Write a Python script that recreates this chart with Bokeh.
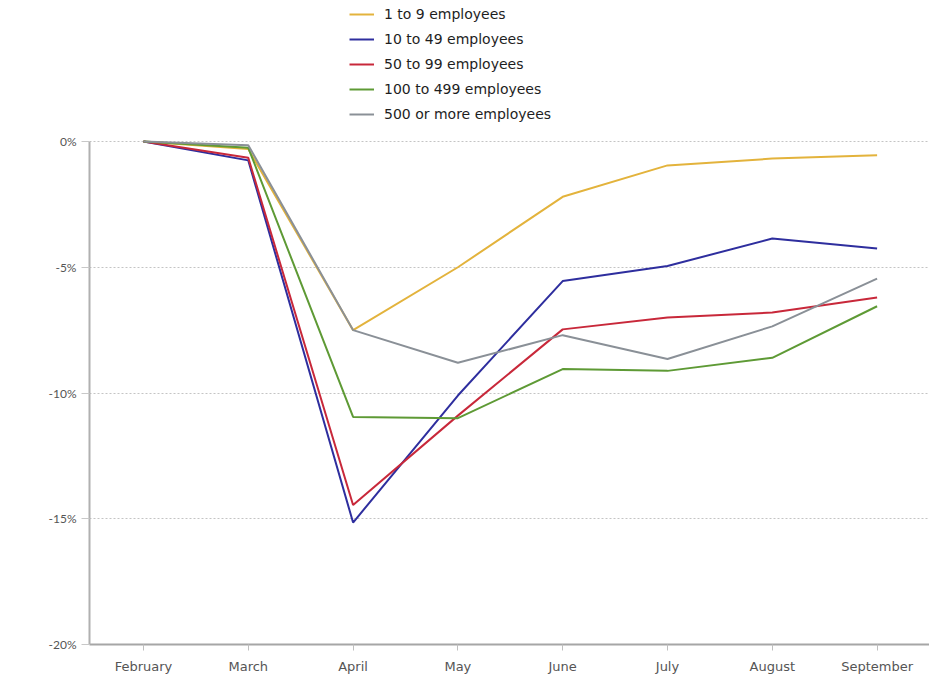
from bokeh.plotting import figure
from bokeh.models import Legend, LegendItem, FixedTicker, Range1d
from bokeh.embed import file_html
from bokeh.resources import INLINE

months = ["February", "March", "April", "May", "June", "July", "August", "September"]
series_names = ["1 to 9 employees", "10 to 49 employees", "50 to 99 employees",
                "100 to 499 employees", "500 or more employees"]
emp_1_9 = [0.0, -0.3, -7.5, -5.0, -2.2, -0.95, -0.68, -0.55]
emp_10_49 = [0.0, -0.75, -15.15, -10.1, -5.55, -4.95, -3.86, -4.25]
emp_50_99 = [0.0, -0.65, -14.45, -10.9, -7.47, -7.0, -6.8, -6.2]
emp_100_499 = [0.0, -0.25, -10.95, -11.0, -9.05, -9.12, -8.6, -6.55]
emp_500_plus = [0.0, -0.15, -7.5, -8.8, -7.7, -8.65, -7.35, -5.45]
colors = ["#E3B33C", "#2E2E9E", "#C8283A", "#5E9A35", "#8A9097"]
y_ticks = [0, -5, -10, -15, -20]

series = [emp_1_9, emp_10_49, emp_50_99, emp_100_499, emp_500_plus]
x = list(range(len(months)))

FONT = "DejaVu Sans"
# frame spans the full height above the axis so the legend fits inside it
p = figure(width=929, height=676, output_backend="svg", toolbar_location=None,
           x_range=Range1d(-0.515, 7.5), y_range=Range1d(-20, 20 * 141 / 503),
           min_border_left=89, min_border_right=0, min_border_top=0,
           min_border_bottom=32)
p.outline_line_color = None
p.background_fill_color = "white"

renderers = []
for vals, c in zip(series, colors):
    r = p.line(x, vals, line_color=c, line_width=2)
    renderers.append(r)

items = [LegendItem(label=n, renderers=[r]) for n, r in zip(series_names, renderers)]
legend = Legend(items=items, location=(260, 520), orientation="vertical",
                border_line_color=None, background_fill_alpha=0,
                padding=0, margin=0, spacing=5, glyph_width=25, glyph_height=20,
                label_height=20, label_standoff=10,
                label_text_font=FONT, label_text_font_size="14px",
                label_text_color="#1E1E1E")
p.add_layout(legend, "center")

# x axis
p.xaxis.ticker = FixedTicker(ticks=x)
p.xaxis.major_label_overrides = {i: m for i, m in enumerate(months)}
p.xaxis.axis_line_color = "#A6A6A6"
p.xaxis.axis_line_width = 2
p.xaxis.major_tick_line_color = "#BFBFBF"
p.xaxis.major_tick_in = 0
p.xaxis.major_tick_out = 6
p.xaxis.minor_tick_line_color = None
p.xaxis.major_label_text_font = FONT
p.xaxis.major_label_text_font_size = "13px"
p.xaxis.major_label_text_color = "#555555"
p.xaxis.major_label_standoff = 8

# y axis
p.yaxis.ticker = FixedTicker(ticks=y_ticks)
p.yaxis.bounds = (-20, 0)
p.yaxis.major_label_overrides = {t: f"{t}%" for t in y_ticks}
p.yaxis.axis_line_color = "#B0B0B0"
p.yaxis.axis_line_width = 2
p.yaxis.major_tick_line_color = "#C8C8C8"
p.yaxis.major_tick_in = 0
p.yaxis.major_tick_out = 8
p.yaxis.minor_tick_line_color = None
p.yaxis.major_label_text_font = "Lato"
p.yaxis.major_label_text_font_size = "12px"
p.yaxis.major_label_text_color = "#555555"
p.yaxis.major_label_standoff = 5

p.xgrid.grid_line_color = None
p.ygrid.grid_line_color = "#C4C4C4"
p.ygrid.grid_line_dash = "2 2"
p.ygrid.grid_line_width = 1

open("out.html", "w").write(file_html(p, INLINE))
